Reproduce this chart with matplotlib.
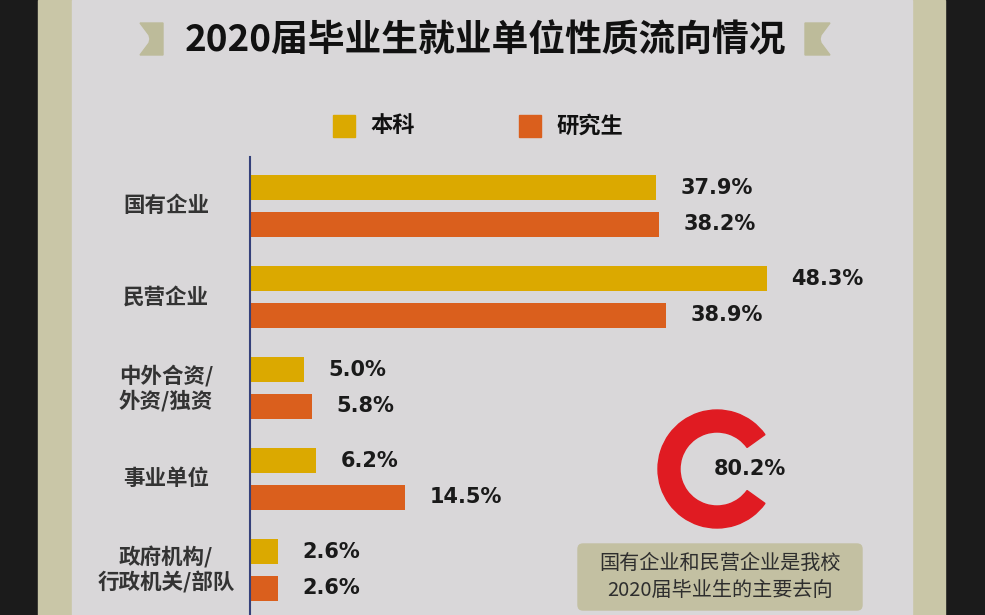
import numpy as np
import matplotlib.pyplot as plt
from matplotlib.patches import Rectangle, Polygon, Wedge, FancyBboxPatch
import matplotlib.transforms as mtransforms

plt.rcParams['font.family'] = ['Noto Sans CJK SC', 'DejaVu Sans']

title = "2020届毕业生就业单位性质流向情况"
categories = ["国有企业", "民营企业", "中外合资/\n外资/独资", "事业单位", "政府机构/\n行政机关/部队"]
series_names = ["本科", "研究生"]
benke = [37.9, 48.3, 5.0, 6.2, 2.6]
yanjiusheng = [38.2, 38.9, 5.8, 14.5, 2.6]
ring_value = 80.2
note = "国有企业和民营企业是我校\n2020届毕业生的主要去向"

c_benke = '#dba900'
c_yjs = '#da5f1d'
c_ring = '#e01b22'
c_bg = '#d9d7d9'
c_band = '#c9c6a7'

W, H = 985, 615
fig = plt.figure(figsize=(W / 100, H / 100), dpi=100)
fig.patch.set_facecolor('#1b1b1b')

# background / decoration layer in pixel coords
bg = fig.add_axes([0, 0, 1, 1], zorder=0)
bg.set_xlim(0, W)
bg.set_ylim(H, 0)
bg.axis('off')
bg.add_patch(Rectangle((38, 0), 34, H, color=c_band))
bg.add_patch(Rectangle((912, 0), 33, H, color=c_band))
bg.add_patch(Rectangle((72, 0), 840, H, color=c_bg))

# title ribbons
bg.add_patch(Polygon([(140, 23), (163, 23), (163, 55), (140, 55), (149, 43), (150, 39), (149, 35)],
                     color='#bdbb9a'))
bg.add_patch(Polygon([(805, 23), (830, 23), (821, 35), (820, 39), (821, 43), (830, 55), (805, 55)],
                     color='#bdbb9a'))
bg.text(485, 41, title, ha='center', va='center', fontsize=26.5, fontweight='heavy', color='#111111')

# legend
for (x0, name, col) in [(333, series_names[0], c_benke), (519, series_names[1], c_yjs)]:
    bg.add_patch(Rectangle((x0, 115), 22, 22, color=col))
    bg.text(x0 + 37, 126, name, ha='left', va='center', fontsize=16, fontweight='heavy', color='#111111')

# ring
gap = 360 * (1 - ring_value / 100)
bg.add_patch(Wedge((717, 469), 59, gap / 2, 360 - gap / 2, width=22, color=c_ring))
bg.text(750, 469, f"{ring_value:.1f}%", ha='center', va='center', fontsize=15,
        fontweight='bold', color='#1a1a1a', family='DejaVu Sans')

# note box
bg.add_patch(FancyBboxPatch((578, 544), 284, 66, boxstyle='round,pad=0,rounding_size=5',
                            color='#c3c0a2'))
bg.text(720, 577, note, ha='center', va='center', fontsize=14.5, color='#2e2e2e',
        fontweight='medium', linespacing=1.35)

# bar chart
ax = fig.add_axes([250 / W, 0, (935 - 250) / W, (H - 157) / H], zorder=1)
ax.set_facecolor('none')
y = np.arange(len(categories))
h = 0.275
ax.barh(y - 0.2, benke, height=h, color=c_benke, label=series_names[0])
ax.barh(y + 0.2, yanjiusheng, height=h, color=c_yjs, label=series_names[1])
ax.set_xlim(0, (935 - 250) / 10.7)
ax.set_ylim(4.495, -0.538)
for s in ['top', 'right', 'bottom']:
    ax.spines[s].set_visible(False)
ax.spines['left'].set_color('#34407a')
ax.spines['left'].set_linewidth(1.5)
ax.set_xticks([])
ax.set_yticks([])

for i in range(len(categories)):
    ax.text(benke[i] + 2.3, y[i] - 0.2, f"{benke[i]:.1f}%", va='center', ha='left',
            fontsize=15, fontweight='bold', color='#1a1a1a', family='DejaVu Sans')
    ax.text(yanjiusheng[i] + 2.3, y[i] + 0.2, f"{yanjiusheng[i]:.1f}%", va='center', ha='left',
            fontsize=15, fontweight='bold', color='#1a1a1a', family='DejaVu Sans')

trans = mtransforms.blended_transform_factory(fig.transFigure, ax.transData)
for i, cat in enumerate(categories):
    ax.text(166 / W, y[i], cat, transform=trans, ha='center', va='center',
            fontsize=15.5, fontweight='bold', color='#333333', linespacing=1.2)

fig.savefig('out.png', dpi=100, facecolor=fig.get_facecolor())
